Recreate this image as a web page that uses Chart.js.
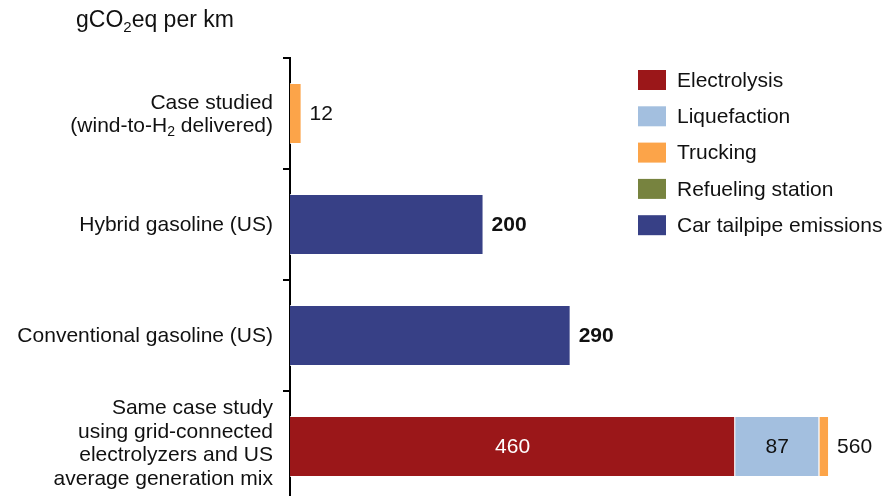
<!DOCTYPE html>
<html>
<head>
<meta charset="utf-8">
<script src="https://cdn.jsdelivr.net/npm/chart.js@4"></script>
<style>
  html, body { margin: 0; padding: 0; background: #fff; overflow: hidden; }
  #wrap { position: relative; width: 891px; height: 496px; overflow: hidden; }
  #box { position: absolute; left: 0; top: 0; width: 891px; height: 510px; }
  #unit { position: absolute; left: 76px; top: 8px; font: 23px 'Liberation Sans', Arial, sans-serif;
          color: #111; line-height: 1; white-space: nowrap; }
  #unit sub { font-size: 15px; vertical-align: -5px; line-height: 0; }
</style>
</head>
<body>
<div id="wrap">
  <div id="box"><canvas id="chart"></canvas></div>
  <div id="unit">gCO<sub>2</sub>eq per km</div>
</div>
<script>
const FONT = "'Liberation Sans', Arial, sans-serif";

const categories = [
  ['Case studied', '(wind-to-H₂ delivered)'],
  ['Hybrid gasoline (US)'],
  ['Conventional gasoline (US)'],
  ['Same case study', 'using grid-connected', 'electrolyzers and US', 'average generation mix'],
];
const electrolysis = [null, null, null, 460];
const liquefaction = [null, null, null, 87];
const trucking     = [12, null, null, 10];
const refueling    = [null, null, null, null];
const tailpipe     = [null, 200, 290, null];
const totalLabels  = ['12', '200', '290', '560'];
const totalBold    = [false, true, true, false];

const seriesNames  = ['Electrolysis', 'Liquefaction', 'Trucking', 'Refueling station', 'Car tailpipe emissions'];
const seriesData   = [electrolysis, liquefaction, trucking, refueling, tailpipe];
const seriesColors = ['#9b1719', '#a3bfdf', '#fca449', '#77833f', '#374086'];
const insideColors = ['#fff', '#111', '#111', '#fff', '#fff'];

// right-aligned text where '₂' is drawn as a small lowered 2
function drawSubText(ctx, str, xRight, y) {
  const big = '21px ' + FONT, small = '14px ' + FONT;
  const parts = str.split('₂');
  let w = 0;
  parts.forEach((p, i) => {
    ctx.font = big; w += ctx.measureText(p).width;
    if (i < parts.length - 1) { ctx.font = small; w += ctx.measureText('2').width; }
  });
  let x = xRight - w;
  ctx.textAlign = 'left';
  parts.forEach((p, i) => {
    ctx.font = big; ctx.fillText(p, x, y); x += ctx.measureText(p).width;
    if (i < parts.length - 1) { ctx.font = small; ctx.fillText('2', x, y + 6); x += ctx.measureText('2').width; }
  });
}

const categoryLabels = {
  id: 'categoryLabels',
  afterDraw(chart) {
    const ctx = chart.ctx, y = chart.scales.y;
    const lh = 23.5;
    ctx.save();
    ctx.fillStyle = '#111';
    ctx.textBaseline = 'middle';
    categories.forEach((lines, i) => {
      const n = lines.length;
      const cy = y.getPixelForTick(i) + (n > 2 ? -3 : 1);
      const y0 = cy - (n - 1) * lh / 2;
      lines.forEach((ln, k) => drawSubText(ctx, ln, 273, y0 + k * lh));
    });
    ctx.restore();
  }
};

const valueLabels = {
  id: 'valueLabels',
  afterDatasetsDraw(chart) {
    const ctx = chart.ctx;
    ctx.save();
    ctx.textBaseline = 'middle';
    categories.forEach((c, i) => {
      const segs = [];
      chart.data.datasets.forEach((ds, d) => {
        if (ds.data[i] == null) return;
        segs.push({ el: chart.getDatasetMeta(d).data[i], d });
      });
      if (!segs.length) return;
      if (segs.length > 1) {
        segs.forEach(s => {
          if (s.el.x - s.el.base < 30) return;
          ctx.fillStyle = insideColors[s.d];
          ctx.font = '21px ' + FONT;
          ctx.textAlign = 'center';
          ctx.fillText(String(chart.data.datasets[s.d].data[i]), (s.el.x + s.el.base) / 2, s.el.y + 1);
        });
      }
      const last = segs[segs.length - 1].el;
      ctx.textAlign = 'left';
      ctx.fillStyle = '#111';
      ctx.font = (totalBold[i] ? 'bold ' : '') + '21px ' + FONT;
      ctx.fillText(totalLabels[i], last.x + 8, last.y + 1);
    });
    ctx.restore();
  }
};

const legendBoxes = {
  id: 'legendBoxes',
  afterDraw(chart) {
    const ctx = chart.ctx;
    ctx.save();
    ctx.font = '21px ' + FONT;
    ctx.textBaseline = 'middle';
    ctx.textAlign = 'left';
    chart.data.datasets.forEach((ds, i) => {
      const top = 70 + i * 36.3;
      ctx.fillStyle = ds.backgroundColor;
      ctx.fillRect(638, top, 28, 20);
      ctx.fillStyle = '#111';
      ctx.fillText(ds.label, 677, top + 11);
    });
    ctx.restore();
  }
};

new Chart(document.getElementById('chart'), {
  type: 'bar',
  data: {
    labels: categories,
    datasets: seriesNames.map((name, i) => ({
      label: name,
      data: seriesData[i],
      backgroundColor: seriesColors[i],
      borderColor: 'rgba(255,255,255,0.75)',
      borderWidth: 1,
      barPercentage: 0.55,
      categoryPercentage: 1,
    })),
  },
  options: {
    indexAxis: 'y',
    responsive: true,
    maintainAspectRatio: false,
    animation: false,
    layout: { padding: { top: 58, right: 1, bottom: 8, left: 0 } },
    plugins: { legend: { display: false }, tooltip: { enabled: false } },
    scales: {
      x: { stacked: true, display: false, min: 0, max: 620 },
      y: {
        stacked: true,
        afterFit: s => { s.width = 290; },
        border: { color: '#000', width: 2 },
        grid: { drawOnChartArea: false, drawTicks: true, tickLength: 7, color: '#000', lineWidth: 2, offset: true },
        ticks: { display: false },
      },
    },
  },
  plugins: [categoryLabels, valueLabels, legendBoxes],
});
</script>
</body>
</html>
